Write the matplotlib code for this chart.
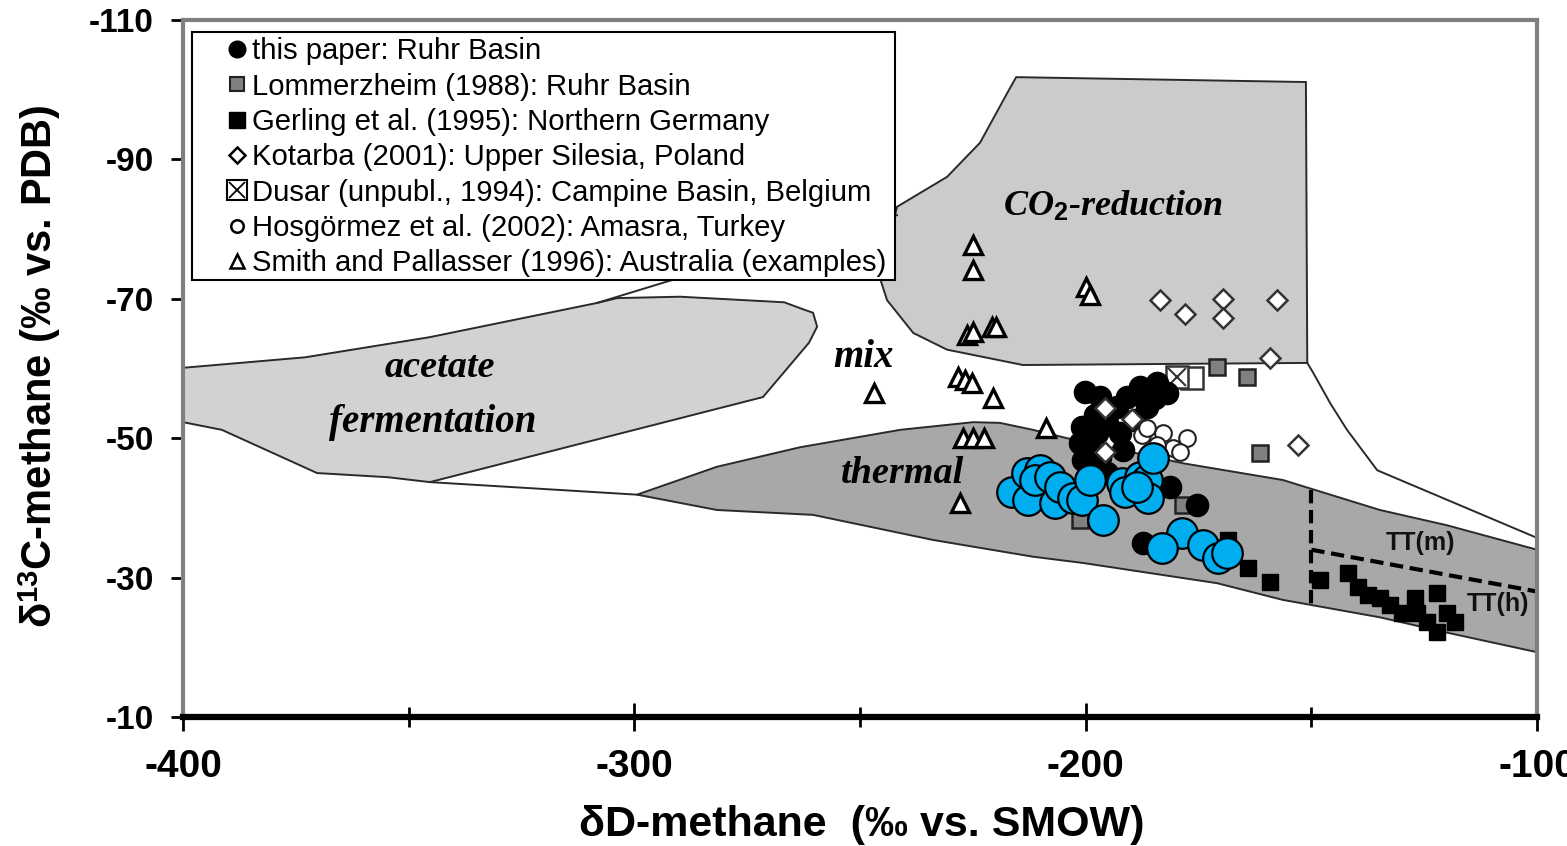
import matplotlib
matplotlib.use('Agg')
import matplotlib.pyplot as plt
from matplotlib.patches import Polygon, Rectangle
from matplotlib.lines import Line2D
from matplotlib.legend_handler import HandlerTuple
import numpy as np

plt.rcParams['axes.unicode_minus'] = False
plt.rcParams['mathtext.fontset'] = 'custom'
plt.rcParams['mathtext.rm'] = 'Liberation Sans:bold'
plt.rcParams['mathtext.bf'] = 'Liberation Sans:bold'
plt.rcParams['mathtext.it'] = 'Liberation Serif:italic:bold'
plt.rcParams['font.family'] = ['Liberation Sans', 'DejaVu Sans']

# ---------------- data (dD, d13C) ----------------
ruhr_dD = [-200.1, -196.8, -200.8, -201.2, -200.6, -197.5, -195.3, -193.0, -190.8, -187.9,
           -184.2, -182.0, -186.4, -192.4, -191.7, -196.8, -195.3, -181.3, -175.3, -187.3,
           -197.9, -199.5, -189.1, -184.6]
ruhr_d13C = [-56.6, -55.9, -51.6, -49.3, -46.9, -50.7, -52.2, -54.5, -55.9, -57.3,
             -57.9, -56.5, -54.5, -50.7, -48.3, -47.3, -45.0, -43.0, -40.4, -35.0,
             -53.3, -49.7, -52.6, -55.8]

blue_dD = [-216.3, -212.8, -213.0, -210.1, -211.2, -207.9, -206.8, -205.7, -202.8, -200.8,
           -199.0, -196.1, -191.9, -191.3, -187.9, -186.4, -186.2, -185.1, -188.6, -178.6,
           -183.1, -173.9, -170.7, -168.7]
blue_d13C = [-42.3, -41.1, -45.0, -45.4, -44.0, -44.4, -40.7, -43.0, -41.4, -41.1,
             -44.0, -38.3, -43.6, -42.3, -44.4, -44.0, -41.4, -47.2, -43.0, -36.4,
             -34.2, -34.7, -32.8, -33.5]

lommer_dD = [-170.9, -164.2, -161.4, -178.4, -201.2]
lommer_d13C = [-60.2, -58.8, -47.9, -40.4, -38.3]

gerling_dD = [-168.4, -164.0, -159.1, -148.1, -141.9, -139.6, -137.4, -134.8, -132.6, -129.9,
              -127.0, -126.6, -124.4, -122.1, -122.1, -119.9, -118.1]
gerling_d13C = [-35.4, -31.4, -29.4, -29.7, -30.7, -28.7, -27.5, -27.1, -26.1, -24.9,
                -27.1, -24.9, -23.6, -27.8, -22.2, -24.9, -23.6]

kotarba_dD = [-183.5, -178.0, -169.6, -169.6, -157.6, -159.1, -152.9, -195.7, -189.7, -195.7]
kotarba_d13C = [-69.8, -67.8, -70.0, -67.2, -69.8, -61.5, -49.0, -54.3, -52.8, -48.0]

dusar_dD = [-179.7, -176.4]
dusar_d13C = [-58.8, -58.6]

hosg_dD = [-187.5, -182.8, -177.5, -180.6, -184.2, -186.4, -179.1]
hosg_d13C = [-50.5, -50.7, -50.0, -48.6, -49.0, -51.5, -48.0]

smith_dD = [-224.9, -224.9, -199.9, -199.0, -226.3, -224.9, -220.7, -219.9, -246.9, -228.3,
            -226.7, -225.2, -220.5, -227.2, -224.9, -222.5, -208.8, -227.8]
smith_d13C = [-77.7, -74.1, -71.7, -70.5, -64.8, -65.2, -66.0, -66.0, -56.5, -58.8,
              -58.4, -57.9, -55.8, -50.0, -50.0, -50.0, -51.5, -40.7]

# genetic fields (dD, d13C)
acetate_field = [(-400, -60.1), (-373.0, -61.6), (-345.3, -64.5), (-308.3, -69.4), (-303.8, -70.1),
                 (-289.9, -70.3), (-266.8, -69.5), (-262.2, -68.4), (-260.4, -68.0), (-259.5, -66.0),
                 (-261.3, -63.7), (-271.5, -55.9), (-345.3, -43.7), (-354.6, -44.4), (-370.3, -45.0),
                 (-391.4, -51.2), (-400, -52.3)]
co2_field = [(-215.4, -101.8), (-151.2, -101.1), (-150.9, -60.8), (-213.9, -60.5), (-230.7, -62.7),
             (-238.2, -65.1), (-244.0, -69.8), (-245.6, -73.0), (-241.8, -83.2), (-230.7, -87.5),
             (-223.4, -92.4), (-217.4, -99.5)]
thermal_field = [(-299.4, -41.9), (-281.7, -45.9), (-263.3, -48.7), (-241.1, -51.2), (-224.9, -52.3),
                 (-219.0, -52.2), (-211.7, -51.2), (-204.1, -50.0), (-178.4, -46.4), (-156.3, -44.0),
                 (-134.8, -39.7), (-119.9, -37.5), (-100, -34.0), (-100, -19.3), (-119.9, -22.1),
                 (-134.8, -24.3), (-156.3, -26.8), (-170.9, -29.2), (-200.6, -32.1), (-211.7, -33.0),
                 (-233.8, -35.4), (-260.4, -39.0), (-281.7, -39.7)]
co2_tail_line = [(-150.9, -60.8), (-149.6, -59.4), (-145.8, -55.0), (-142.1, -51.2), (-135.4, -45.4),
                 (-100, -35.7)]
mix_upper_line = [(-308.3, -69.4), (-291.6, -72.7), (-241.8, -82.0)]
mix_lower_line = [(-345.3, -43.7), (-299.4, -41.9)]
tt_vertical = [(-150, -42.6), (-150, -26.1)]
tt_boundary = [(-150, -34.0), (-100, -28.0)]

legend_labels = ["this paper: Ruhr Basin",
                 "Lommerzheim (1988): Ruhr Basin",
                 "Gerling et al. (1995): Northern Germany",
                 "Kotarba (2001): Upper Silesia, Poland",
                 "Dusar (unpubl., 1994): Campine Basin, Belgium",
                 "Hosgörmez et al. (2002): Amasra, Turkey",
                 "Smith and Pallasser (1996): Australia (examples)"]

# ---------------- figure ----------------
fig = plt.figure(figsize=(15.67, 8.46), dpi=100)
ax = fig.add_axes([183 / 1567, 1 - 717 / 846, 1354 / 1567, 697 / 846])
ax.set_xlim(-400, -100)
ax.set_ylim(-10, -110)

edge = '#2a2a2a'
ax.add_patch(Polygon(acetate_field, closed=True, facecolor='#d2d2d2', edgecolor=edge, lw=1.4, zorder=1))
ax.add_patch(Polygon(co2_field, closed=True, facecolor='#cbcbcb', edgecolor=edge, lw=1.4, zorder=1))
ax.add_patch(Polygon(thermal_field, closed=True, facecolor='#a8a8a8', edgecolor=edge, lw=1.4, zorder=1))
for ln in (co2_tail_line, mix_upper_line, mix_lower_line):
    xs, ys = zip(*ln)
    ax.plot(xs, ys, color=edge, lw=1.4, zorder=1.5)
for ln in (tt_vertical, tt_boundary):
    xs, ys = zip(*ln)
    ax.plot(xs, ys, color='black', lw=3, dashes=(3.2, 1.6), zorder=2)

serif = dict(family=['Liberation Serif', 'DejaVu Serif'], style='italic', weight='bold',
             ha='center', va='center', zorder=2)
ax.text(-343, -60.1, 'acetate', fontsize=27.5, **serif)
ax.text(-344.6, -52.2, 'fermentation', fontsize=28, **serif)
ax.text(-249.3, -61.6, 'mix', fontsize=28, **serif)
ax.text(-240.5, -45.0, 'thermal', fontsize=27.5, **serif)
ax.text(-193.9, -83.2, r'CO$_{\mathit{2}}$-reduction', fontsize=26, **serif)
ax.text(-125.9, -35.0, 'TT(m)', fontsize=18, fontweight='bold', color='#111111', ha='center', va='center', zorder=2)
ax.text(-108.6, -26.2, 'TT(h)', fontsize=18, fontweight='bold', color='#111111', ha='center', va='center', zorder=2)

# points
ax.plot(smith_dD, smith_d13C, ls='none', marker='^', ms=13, mfc='white', mec='black', mew=2.4, zorder=3)
ax.plot(lommer_dD, lommer_d13C, ls='none', marker='s', ms=11, mfc='#808080', mec='#222222', mew=1.8, zorder=3)
ax.plot(gerling_dD, gerling_d13C, ls='none', marker='s', ms=12, mfc='black', mec='black', mew=1, zorder=3)
ax.plot(dusar_dD[::-1], dusar_d13C[::-1], ls='none', marker='s', ms=16, mfc='white', mec='#333333', mew=1.8, zorder=3)
ax.plot(dusar_dD[0], dusar_d13C[0], ls='none', marker='x', ms=13, mec='#333333', mew=1.5, zorder=3.1)
ax.plot(ruhr_dD, ruhr_d13C, ls='none', marker='o', ms=16, mfc='black', mec='black', zorder=4)
ax.plot(hosg_dD, hosg_d13C, ls='none', marker='o', ms=12, mfc='white', mec='#222222', mew=1.5, zorder=4.5)
ax.plot(kotarba_dD, kotarba_d13C, ls='none', marker='D', ms=10, mfc='white', mec='#333333', mew=1.8, zorder=5)
ax.plot(blue_dD, blue_d13C, ls='none', marker='o', ms=22, mfc='#00AEEF', mec='black', mew=1.6, zorder=6)

# axes styling
for s in ('left', 'top', 'right'):
    ax.spines[s].set_color('#7f7f7f')
    ax.spines[s].set_linewidth(3)
ax.spines['bottom'].set_color('black')
ax.spines['bottom'].set_linewidth(4.5)
for s in ax.spines.values():
    s.set_zorder(7)

ax.set_xticks([-400, -300, -200, -100])
ax.set_xticks([-350, -250, -150], minor=True)
ax.set_yticks([-110, -90, -70, -50, -30, -10])
ax.tick_params(axis='x', which='major', direction='inout', length=20, width=2, labelsize=28, pad=13)
ax.tick_params(axis='x', which='minor', direction='inout', length=15, width=2)
ax.tick_params(axis='y', which='major', direction='out', length=9, width=2, labelsize=24, pad=12)
for lab in ax.get_xticklabels() + ax.get_yticklabels():
    lab.set_fontweight('bold')

ax.set_xlabel('δD-methane  (‰ vs. SMOW)', fontsize=31, fontweight='bold')
ax.xaxis.label.set_va('center')
ax.xaxis.set_label_coords(0.5015, -0.155)
ax.set_ylabel(r'δ$^{13}$C-methane (‰ vs. PDB)', fontsize=30, fontweight='bold')
ax.yaxis.label.set_va('center')
ax.yaxis.label.set_ha('center')
ax.yaxis.set_label_coords(-0.1056, 0.504)

# legend
ax.add_patch(Rectangle((0.00665, 0.627), 0.519, 0.356, transform=ax.transAxes,
                       facecolor='white', edgecolor='black', lw=1.5, zorder=8))
h_ruhr = Line2D([], [], ls='none', marker='o', ms=12, mfc='black', mec='black')
h_lom = Line2D([], [], ls='none', marker='s', ms=10, mfc='#808080', mec='#222222', mew=1.5)
h_ger = Line2D([], [], ls='none', marker='s', ms=11, mfc='black', mec='black')
h_kot = Line2D([], [], ls='none', marker='D', ms=8, mfc='white', mec='black', mew=1.8)
h_dus1 = Line2D([], [], ls='none', marker='s', ms=14, mfc='white', mec='black', mew=1.5)
h_dus2 = Line2D([], [], ls='none', marker='x', ms=12, mec='black', mew=1.3)
h_hos = Line2D([], [], ls='none', marker='o', ms=9, mfc='white', mec='black', mew=1.8)
h_smi = Line2D([], [], ls='none', marker='^', ms=10, mfc='white', mec='black', mew=1.8)
leg = ax.legend([h_ruhr, h_lom, h_ger, h_kot, (h_dus1, h_dus2), h_hos, h_smi], legend_labels,
                loc='upper left', bbox_to_anchor=(0.0325, 0.975), borderaxespad=0, borderpad=0,
                frameon=False, fontsize=21.1, handlelength=0.7, handletextpad=0.15, labelspacing=0.25,
                handler_map={tuple: HandlerTuple(ndivide=1, pad=0)})
leg.set_zorder(9)

fig.savefig('out.png', dpi=100, facecolor='white')
